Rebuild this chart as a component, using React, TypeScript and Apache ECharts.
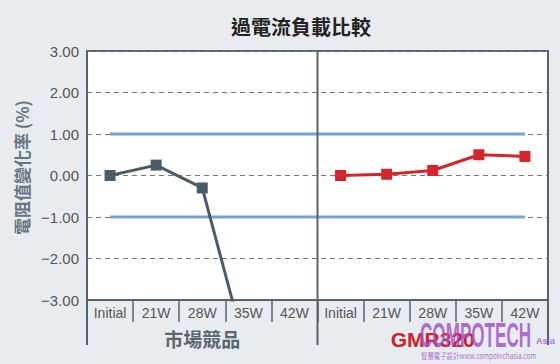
import React, { useEffect, useRef } from "react";
import * as echarts from "echarts";

const categories = ["Initial", "21W", "28W", "35W", "42W"];
const competitorValues = [0, 0.25, -0.3, -4.45];
const gmrValues = [0, 0.03, 0.12, 0.5, 0.46];
const upperLimit = [1, 1, 1, 1, 1, 1, 1, 1, 1, 1];
const lowerLimit = [-1, -1, -1, -1, -1, -1, -1, -1, -1, -1];
const groupLabels = ["市場競品", "GMR320"];
const titleText = "過電流負載比較";
const yAxisName = "電阻值變化率 (%)";

const W = 560;
const H = 364;
const G_LEFT = 87;
const G_RIGHT = 548;
const G_TOP = 51;
const G_BOTTOM = 300;
const EXT_BOTTOM = 345;
const DARK = "#56646e";

export default function App() {
  const ref = useRef<HTMLDivElement>(null);
  useEffect(() => {
    if (!ref.current) return;
    const chart = echarts.init(ref.current, null, { renderer: "svg" });
    const xLabels = [...categories, ...categories];
    const n = xLabels.length;
    const leftData = [...competitorValues, ...Array(n - competitorValues.length).fill(null)];
    const rightData = [...Array(n - gmrValues.length).fill(null), ...gmrValues];
    const mid = (G_LEFT + G_RIGHT) / 2;
    const cjk = "'Noto Sans CJK TC', 'Noto Sans CJK SC', sans-serif";
    const latin = "'Liberation Sans', Arial, sans-serif";
    const purple = "rgba(160,80,200,0.82)";

    chart.setOption({
      animation: false,
      backgroundColor: "#e8ecf0",
      title: {
        text: titleText,
        left: 296,
        top: 11,
        textAlign: "center",
        textStyle: { fontFamily: cjk, fontSize: 20, fontWeight: "bold", color: "#222" },
      },
      grid: {
        left: G_LEFT,
        right: W - G_RIGHT,
        top: G_TOP,
        bottom: H - G_BOTTOM,
        show: true,
        backgroundColor: "#ffffff",
        borderColor: DARK,
        borderWidth: 2,
        containLabel: false,
      },
      xAxis: {
        type: "category",
        data: xLabels,
        boundaryGap: true,
        axisLine: { show: true, onZero: false, lineStyle: { color: DARK, width: 2 } },
        axisTick: { show: true, inside: false, length: 22, interval: 0, lineStyle: { color: DARK, width: 1.5 } },
        axisLabel: { interval: 0, margin: 6, fontSize: 14, color: "#555", fontFamily: latin },
        splitLine: { show: false },
      },
      yAxis: {
        type: "value",
        min: -3,
        max: 3,
        interval: 1,
        name: yAxisName,
        nameLocation: "middle",
        nameRotate: 90,
        nameGap: 57,
        nameTextStyle: { fontFamily: cjk, fontSize: 17, fontWeight: "bold", color: "#68747e", padding: [0, 0, 0, 16] },
        axisLine: { show: false },
        axisTick: { show: false },
        axisLabel: {
          margin: 8,
          fontSize: 15,
          color: "#555",
          fontFamily: latin,
          formatter: (v: number) => v.toFixed(2).replace("-", "\u2212"),
        },
        splitLine: { show: true, lineStyle: { color: "#777", type: [5, 4], width: 1 } },
      },
      series: [
        {
          type: "line",
          data: upperLimit,
          showSymbol: false,
          symbol: "none",
          lineStyle: { color: "#72a3d3", width: 3 },
          z: 2,
          silent: true,
        },
        {
          type: "line",
          data: lowerLimit,
          showSymbol: false,
          symbol: "none",
          lineStyle: { color: "#72a3d3", width: 3 },
          z: 2,
          silent: true,
        },
        {
          type: "line",
          data: leftData,
          symbol: "rect",
          symbolSize: 11,
          clip: true,
          lineStyle: { color: "#4b5c67", width: 3 },
          itemStyle: { color: "#4b5c67" },
          z: 3,
        },
        {
          type: "line",
          data: rightData,
          symbol: "rect",
          symbolSize: 11,
          clip: true,
          lineStyle: { color: "#d4252d", width: 3 },
          itemStyle: { color: "#d4252d" },
          z: 3,
        },
      ],
      graphic: [
        { type: "line", shape: { x1: G_LEFT, y1: G_BOTTOM, x2: G_LEFT, y2: EXT_BOTTOM }, style: { stroke: DARK, lineWidth: 2 }, z: 10 },
        { type: "line", shape: { x1: mid, y1: G_TOP, x2: mid, y2: EXT_BOTTOM }, style: { stroke: DARK, lineWidth: 2 }, z: 10 },
        { type: "line", shape: { x1: G_RIGHT, y1: G_BOTTOM, x2: G_RIGHT, y2: EXT_BOTTOM }, style: { stroke: DARK, lineWidth: 2 }, z: 10 },
        {
          type: "text",
          x: (G_LEFT + mid) / 2,
          y: 338,
          style: { text: groupLabels[0], fill: "#5b6670", font: `bold 19px ${cjk}`, textAlign: "center", textVerticalAlign: "middle" },
          z: 10,
        },
        {
          type: "text",
          x: (mid + G_RIGHT) / 2,
          y: 339,
          style: { text: groupLabels[1], fill: "#d0202a", font: `bold 21px ${latin}`, textAlign: "center", textVerticalAlign: "middle" },
          z: 10,
        },
        {
          type: "group",
          x: 420,
          y: 334,
          scaleX: 0.57,
          scaleY: 1.2,
          z: 11,
          children: [
            {
              type: "text",
              x: 0,
              y: 0,
              style: { text: "COMPOTECH", fill: purple, font: `bold 30px ${latin}`, textAlign: "left", textVerticalAlign: "middle" },
              z: 11,
            },
          ],
        },
        {
          type: "text",
          x: 536,
          y: 341,
          style: { text: "Asia", fill: purple, font: `bold 9px ${latin}`, textAlign: "left", textVerticalAlign: "middle" },
          z: 11,
        },
        {
          type: "group",
          x: 421,
          y: 356,
          scaleX: 0.8,
          z: 11,
          children: [
            {
              type: "text",
              x: 0,
              y: 0,
              style: { text: "智慧電子設計www.compotechasia.com", fill: purple, font: `8px ${cjk}`, textAlign: "left", textVerticalAlign: "middle" },
              z: 11,
            },
          ],
        },
      ],
    });
    return () => chart.dispose();
  }, []);
  return <div ref={ref} style={{ position: "fixed", left: 0, top: 0, width: W, height: H }} />;
}
